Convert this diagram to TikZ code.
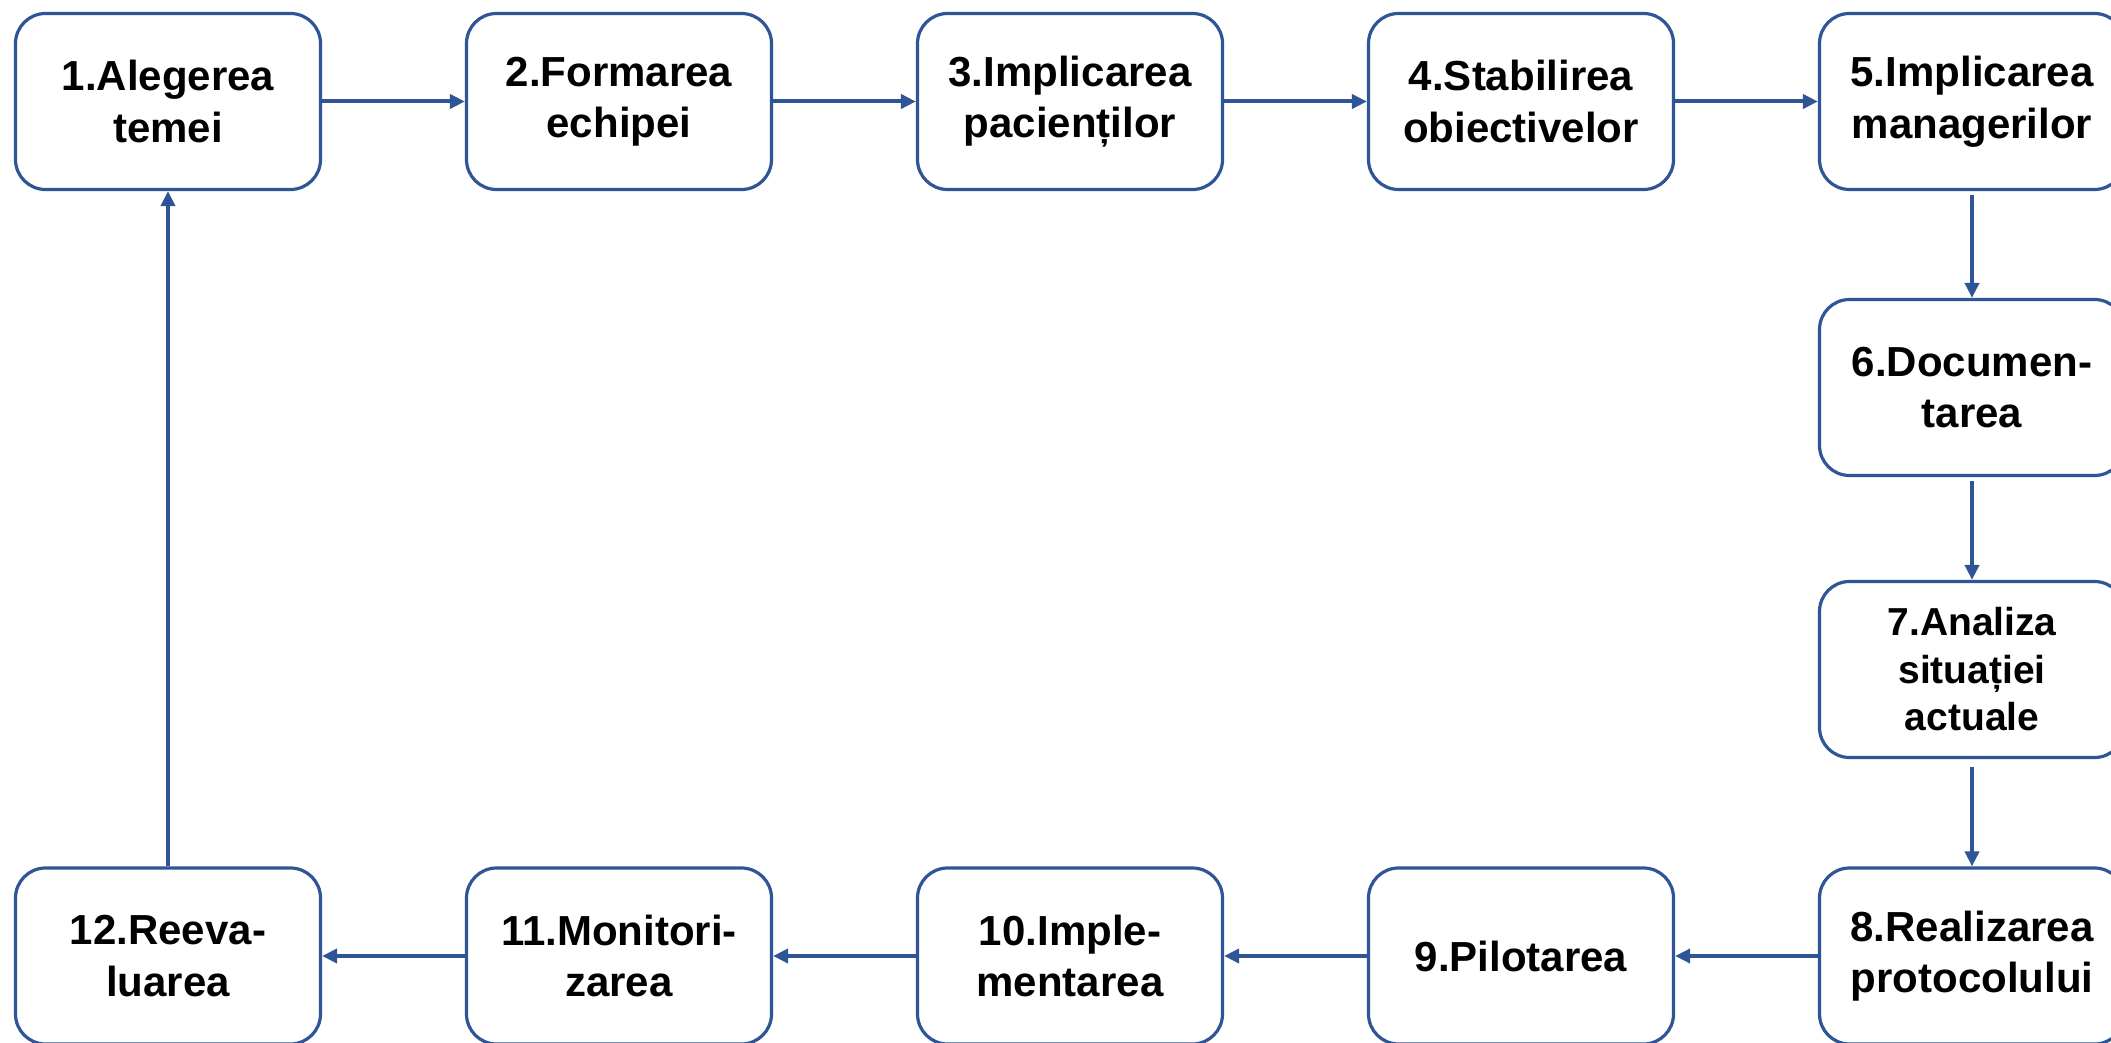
\documentclass[tikz,border=0pt]{standalone}
\usepackage{fontspec}
\setmainfont{Liberation Sans}
\usetikzlibrary{arrows.meta}
\definecolor{bord}{RGB}{47,85,151}
\begin{document}
\begin{tikzpicture}[x=1pt,y=-1pt,
  box/.style={draw=bord, line width=3.2pt, rounded corners=30pt, minimum width=305pt, minimum height=176pt, align=center, inner sep=0pt, font=\bfseries\fontsize{42}{51.5}\selectfont},
  smallbox/.style={box, font=\bfseries\fontsize{39}{47.5}\selectfont},
  conn/.style={draw=bord, line width=4pt, -{Triangle[length=15pt,width=14pt]}}]
\useasboundingbox (0,0) rectangle (2111,1043);
\clip (0,0) rectangle (2111,1043);
\fill[white] (0,0) rectangle (2111,1043);
\node[box] (n1) at (168,101.5) {1.Alegerea\\temei};
\node[box] (n2) at (619,101.5) {2.Formarea\\echipei};
\node[box] (n3) at (1070,101.5) {3.Implicarea\\pacienților};
\node[box] (n4) at (1521,101.5) {4.Stabilirea\\obiectivelor};
\node[box] (n5) at (1972,101.5) {5.Implicarea\\managerilor};
\node[box] (n6) at (1972,387.5) {6.Documen-\\tarea};
\node[smallbox] (n7) at (1972,669.5) {7.Analiza\\situației\\actuale};
\node[box] (n8) at (1972,956) {8.Realizarea\\protocolului};
\node[box] (n9) at (1521,956) {9.Pilotarea};
\node[box] (n10) at (1070,956) {10.Imple-\\mentarea};
\node[box] (n11) at (619,956) {11.Monitori-\\zarea};
\node[box] (n12) at (168,956) {12.Reeva-\\luarea};
\draw[conn] (n1) -- (n2);
\draw[conn] (n2) -- (n3);
\draw[conn] (n3) -- (n4);
\draw[conn] (n4) -- (n5);
\draw[conn, shorten <=4pt] (n5) -- (n6);
\draw[conn, shorten <=4pt] (n6) -- (n7);
\draw[conn, shorten <=8pt] (n7) -- (n8);
\draw[conn] (n8) -- (n9);
\draw[conn] (n9) -- (n10);
\draw[conn] (n10) -- (n11);
\draw[conn] (n11) -- (n12);
\draw[conn] (n12) -- (n1);
\end{tikzpicture}
\end{document}
